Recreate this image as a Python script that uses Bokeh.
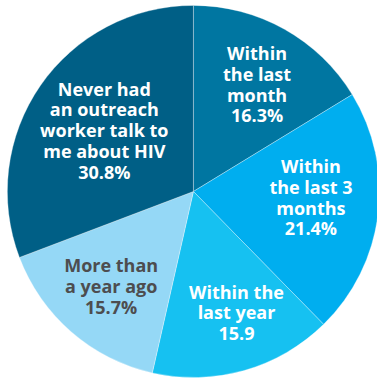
import math
from bokeh.plotting import figure
from bokeh.models import Range1d, ColumnDataSource
from bokeh.core.properties import value
from bokeh.embed import file_html
from bokeh.resources import INLINE

# ---- data ----
categories = ["Within the last month", "Within the last 3 months", "Within the last year",
              "More than a year ago", "Never had an outreach worker talk to me about HIV"]
percent = [16.3, 21.4, 15.9, 15.7, 30.8]
label_text = ["Within\nthe last\nmonth\n16.3%",
              "Within\nthe last 3\nmonths\n21.4%",
              "Within the\nlast year\n15.9",
              "More than\na year ago\n15.7%",
              "Never had\nan outreach\nworker talk to\nme about HIV\n30.8%"]

# ---- style / layout ----
colors = ["#0076a1", "#00aeef", "#16c1f1", "#95d8f6", "#005f86"]
text_colors = ["white", "white", "white", "#4d4d4f", "white"]
# label block centres (units relative to pie centre, y up)
label_pos = [(65, 110), (120, -6), (44, -124), (-84, -97), (-91, 63)]
LINE_H = 21.3
W, H = 377, 380
REF_W, REF_H = 385, 390
CX, CY = 197, 196   # pie centre in reference frame
R = 190

p = figure(width=W, height=H, output_backend="svg", toolbar_location=None,
           x_axis_type=None, y_axis_type=None, min_border=0,
           x_range=Range1d(-CX, REF_W - CX), y_range=Range1d(-(REF_H - CY), CY))
p.outline_line_color = None
p.grid.visible = False
p.background_fill_color = "white"
p.border_fill_color = "white"

total = sum(percent)
starts, ends = [], []
cum = 0.0
for v in percent:
    starts.append(math.pi / 2 - 2 * math.pi * cum / total)
    cum += v
    ends.append(math.pi / 2 - 2 * math.pi * cum / total)

src = ColumnDataSource(dict(cat=categories, val=percent, start=starts, end=ends, color=colors))
p.wedge(x=0, y=0, radius=R, start_angle="start", end_angle="end", direction="clock",
        fill_color="color", line_color="white", line_width=0.7, line_alpha=0.45, source=src)

xs, ys, ts, cs = [], [], [], []
for txt, (lx, ly), tc in zip(label_text, label_pos, text_colors):
    lines = txt.split("\n")
    n = len(lines)
    for i, ln in enumerate(lines):
        xs.append(lx)
        ys.append(ly + (n - 1) / 2 * LINE_H - i * LINE_H)
        ts.append(ln)
        cs.append(tc)
p.text(x=xs, y=ys, text=ts, text_color=cs, text_align="center", text_baseline="middle",
       text_font=value("Open Sans"), text_font_style="bold", text_font_size="18px")

open("out.html", "w").write(file_html(p, INLINE))
